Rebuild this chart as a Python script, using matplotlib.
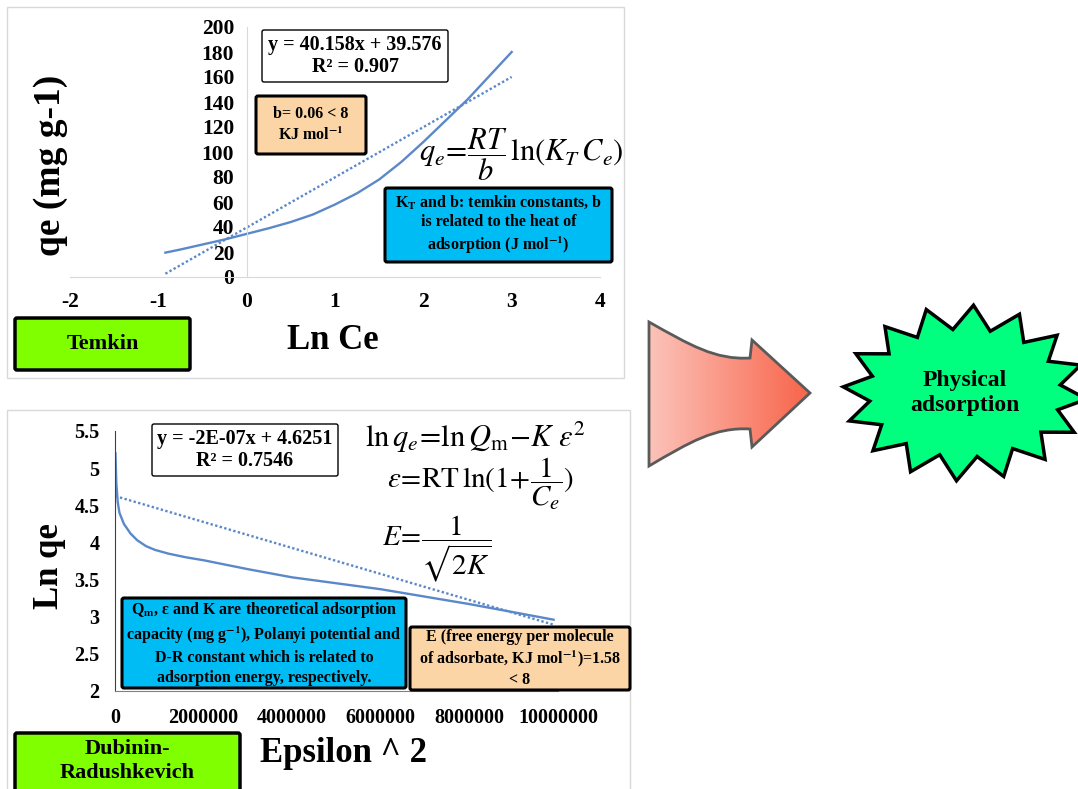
import numpy as np
import matplotlib
matplotlib.use('Agg')
import matplotlib.pyplot as plt
from matplotlib.patches import FancyBboxPatch, Rectangle, Polygon, PathPatch
from matplotlib.path import Path
from matplotlib.colors import LinearSegmentedColormap
from matplotlib.ticker import FuncFormatter

plt.rcParams['font.family'] = ['Liberation Serif', 'DejaVu Serif']
plt.rcParams['font.weight'] = 'normal'
plt.rcParams['mathtext.fontset'] = 'stix'

W, H = 1078, 789

# Temkin isotherm: ln Ce vs qe
temkin_lnce = [-0.92, -0.75, -0.5, -0.25, 0.0, 0.25, 0.5, 0.75, 1.0, 1.25,
               1.5, 1.75, 2.0, 2.25, 2.5, 2.75, 3.0]
temkin_qe = [19.5, 22, 26, 30, 34.5, 39, 44, 50, 58, 67,
             78, 92, 108, 125, 142, 161, 180]
temkin_slope = 40.158
temkin_intercept = 39.576
temkin_r2 = 0.907
temkin_xticks = [-2, -1, 0, 1, 2, 3, 4]
temkin_yticks = [0, 20, 40, 60, 80, 100, 120, 140, 160, 180, 200]

# Dubinin-Radushkevich: epsilon^2 vs ln qe
dr_eps2 = [0.01e6, 0.03e6, 0.06e6, 0.1e6, 0.2e6, 0.35e6, 0.5e6, 0.7e6, 0.9e6,
           1.2e6, 1.6e6, 2.0e6, 3.0e6, 4.0e6, 5.0e6, 6.0e6, 7.0e6, 8.0e6,
           9.0e6, 9.9e6]
dr_lnqe = [5.2, 4.8, 4.55, 4.4, 4.25, 4.12, 4.03, 3.95, 3.9,
           3.85, 3.8, 3.76, 3.64, 3.53, 3.45, 3.37, 3.27, 3.17,
           3.06, 2.96]
dr_slope = -1.75e-7
dr_intercept = 4.6251
dr_r2 = 0.7546
dr_xticks = [0, 2e6, 4e6, 6e6, 8e6, 10e6]
dr_yticks = [2, 2.5, 3, 3.5, 4, 4.5, 5, 5.5]

LINE = '#5b88c8'
GREEN = '#80ff00'
BLUE = '#00bcf5'
PEACH = '#fbd5a5'

fig = plt.figure(figsize=(W / 100, H / 100), dpi=100)
fig.patch.set_facecolor('white')


def px_axes(x0, y0, x1, y1):
    return fig.add_axes([x0 / W, 1 - y1 / H, (x1 - x0) / W, (y1 - y0) / H])


def style_axis(ax, left_color, bottom_color, size, xpad, ypad):
    for s in ['top', 'right']:
        ax.spines[s].set_visible(False)
    ax.spines['left'].set_color(left_color)
    ax.spines['bottom'].set_color(bottom_color)
    ax.patch.set_alpha(0)
    ax.tick_params(length=0, labelsize=size)
    ax.tick_params(axis='x', pad=xpad)
    ax.tick_params(axis='y', pad=ypad)
    for lab in ax.get_xticklabels() + ax.get_yticklabels():
        lab.set_fontweight('bold')


# --- Temkin chart ---
ax1 = px_axes(70, 27, 600, 277)
ax1.plot(temkin_lnce, temkin_qe, color=LINE, lw=1.7)
tx = np.array([min(temkin_lnce), max(temkin_lnce)])
ax1.plot(tx, temkin_slope * tx + temkin_intercept, color=LINE, lw=1.7,
         linestyle=(0, (1, 1)))
ax1.set_xlim(-2, 4)
ax1.set_ylim(0, 200)
ax1.set_xticks(temkin_xticks)
ax1.set_yticks(temkin_yticks)
ax1.xaxis.set_major_formatter(FuncFormatter(lambda v, p: f'{v:g}'))
ax1.yaxis.set_major_formatter(FuncFormatter(lambda v, p: f'{v:g}'))
ax1.spines['left'].set_position(('data', 0))
style_axis(ax1, '#d9d9d9', '#d9d9d9', 15.5, 11, 9)

# --- D-R chart ---
ax2 = px_axes(115, 431, 558, 691)
ax2.plot(dr_eps2, dr_lnqe, color=LINE, lw=1.7)
dx = np.array([min(dr_eps2), max(dr_eps2)])
ax2.plot(dx, dr_slope * dx + dr_intercept, color=LINE, lw=1.7,
         linestyle=(0, (1, 1)))
ax2.set_xlim(0, 1e7)
ax2.set_ylim(2, 5.5)
ax2.set_xticks(dr_xticks)
ax2.set_yticks(dr_yticks)
ax2.xaxis.set_major_formatter(FuncFormatter(lambda v, p: f'{v:.0f}'))
ax2.yaxis.set_major_formatter(FuncFormatter(lambda v, p: f'{v:g}'))
style_axis(ax2, '#404040', '#808080', 14.5, 12, 11)

# --- overlay in pixel coordinates for boxes, labels and shapes ---
ov = fig.add_axes([0, 0, 1, 1])
ov.set_xlim(0, W)
ov.set_ylim(H, 0)
ov.axis('off')

# panel frames
ov.add_patch(Rectangle((7, 7), 617, 371, fill=False, ec='#d9d9d9', lw=1))
ov.add_patch(Rectangle((7, 410), 623, 400, fill=False, ec='#d9d9d9', lw=1))


def label(x, y, text, size, **kw):
    ov.text(x, y, text, ha='center', va='center', fontsize=size,
            fontweight='bold', **kw)


def box(x0, y0, x1, y1, fc, lw, text, size, ls=1.2):
    ov.add_patch(FancyBboxPatch((x0, y0), x1 - x0, y1 - y0,
                                boxstyle='round,pad=0,rounding_size=2',
                                fc=fc, ec='black', lw=lw))
    label((x0 + x1) / 2, (y0 + y1) / 2, text, size, linespacing=ls)


def formula(x, y, tex, size):
    ov.text(x, y, tex, ha='center', va='center', fontsize=size)


# axis titles
label(50, 165, 'qe (mg g-1)', 27, rotation=90)
label(333, 340, 'Ln Ce', 25)
label(50, 566, 'Ln qe', 25, rotation=90)
label(343, 754, 'Epsilon ^ 2', 25)

# Temkin panel annotations
box(262, 30, 448, 82, 'white', 1,
    f'y = {temkin_slope}x + {temkin_intercept}\nR² = {temkin_r2}', 14.5, 1.1)
box(256, 96, 366, 154, PEACH, 2.2, 'b= 0.06 < 8\nKJ mol$^{\\mathbf{-1}}$', 11.5, 1.3)
box(385, 188, 612, 262, BLUE, 2.2,
    'K$_{\\mathbf{T}}$ and b: temkin constants, b\nis related to the heat of\n'
    'adsorption (J mol$^{\\mathbf{-1}}$)', 11.5, 1.3)
formula(521, 155, r'$q_e\!=\!\dfrac{RT}{b}\,\ln(K_T\, C_e)$', 22)
box(15, 318, 190, 370, GREEN, 2.5, 'Temkin', 16)

# D-R panel annotations
dr_slope_txt = f'{dr_slope:.0E}'
box(152, 424, 338, 476, 'white', 1,
    f'y = {dr_slope_txt}x + {dr_intercept}\nR² = {dr_r2}', 14.5, 1.1)
formula(475, 437, r'$\ln q_e\!=\!\ln Q_{\rm m}\!-\!K\ \varepsilon^2$', 22)
formula(480, 484, r'$\varepsilon\!=\!{\rm RT}\,\ln(1\!+\!\dfrac{1}{C_e})$', 21)
formula(437, 549, r'$E\!=\!\dfrac{1}{\sqrt{2K}}$', 21)
box(122, 598, 406, 688, BLUE, 2.2,
    'Q$_{\\mathbf{m}}$, ε and K are theoretical adsorption\n'
    'capacity (mg g$^{\\mathbf{-1}}$), Polanyi potential and\n'
    'D-R constant which is related to\nadsorption energy, respectively.',
    11.5, 1.3)
box(410, 627, 630, 690, PEACH, 2.2,
    'E (free energy per molecule\nof adsorbate, KJ mol$^{\\mathbf{-1}}$)=1.58\n< 8',
    11.5, 1.25)
ov.add_patch(FancyBboxPatch((15, 733), 225, 80,
                            boxstyle='round,pad=0,rounding_size=2',
                            fc=GREEN, ec='black', lw=2.5))
label(127, 761, 'Dubinin-\nRadushkevich', 16, linespacing=1.25)

# gradient block arrow
verts = [(649, 322), (690, 345), (715, 360), (750, 358), (752, 340), (810, 393),
         (752, 447), (750, 429), (715, 427), (690, 442), (649, 466), (649, 322)]
codes = [Path.MOVETO, Path.CURVE4, Path.CURVE4, Path.CURVE4, Path.LINETO,
         Path.LINETO, Path.LINETO, Path.LINETO, Path.CURVE4, Path.CURVE4,
         Path.CURVE4, Path.CLOSEPOLY]
arrow = PathPatch(Path(verts, codes), fc='none', ec='#5a5a5a', lw=2, zorder=3)
ov.add_patch(arrow)
cmap = LinearSegmentedColormap.from_list('arr', ['#fcc3ba', '#f8644a'])
grad = ov.imshow(np.linspace(0, 1, 256).reshape(1, -1), cmap=cmap,
                 extent=[649, 810, 466, 322], aspect='auto', zorder=2)
grad.set_clip_path(arrow)

# starburst
cx, cy = 965, 393
n = 16
t_out = np.deg2rad(86 + 360 / n * np.arange(n))
t_in = t_out + np.pi / n
star = []
for a, b in zip(t_out, t_in):
    star.append((cx + 122 * np.cos(a), cy - 88 * np.sin(a)))
    star.append((cx + 96 * np.cos(b), cy - 64 * np.sin(b)))
ov.add_patch(Polygon(star, closed=True, fc='#00ff7f', ec='black', lw=2.5,
                     joinstyle='miter'))
label(cx, cy, 'Physical\nadsorption', 17, linespacing=1.2)

ov.set_xlim(0, W)
ov.set_ylim(H, 0)

fig.savefig('out.png', dpi=100, facecolor='white')
